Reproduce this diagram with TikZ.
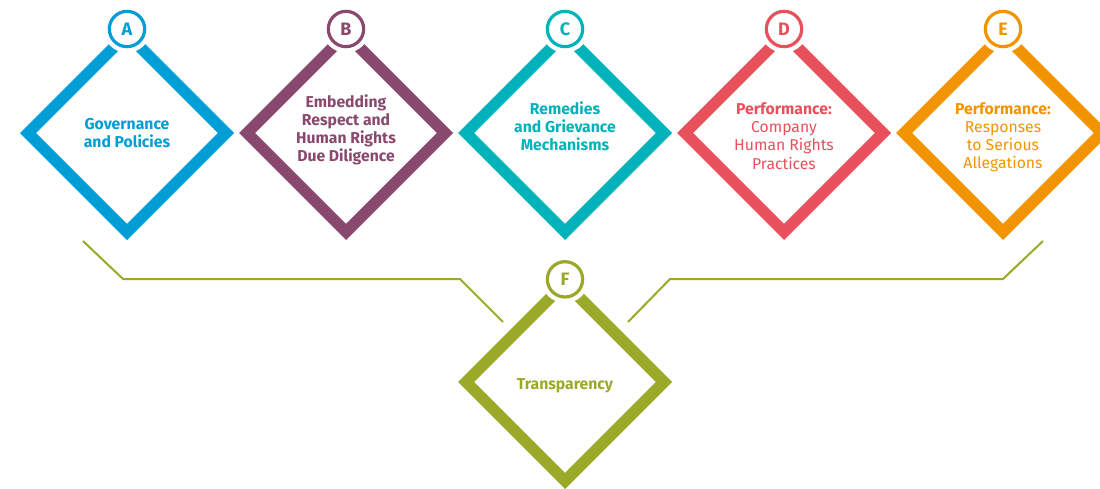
\documentclass[tikz,border=0pt]{standalone}
\usepackage{fontspec}
\setmainfont{Fira Sans}
\usetikzlibrary{shapes.geometric}
\definecolor{colA}{RGB}{0,157,214}
\definecolor{colB}{RGB}{137,72,110}
\definecolor{colC}{RGB}{0,178,185}
\definecolor{colD}{RGB}{232,80,92}
\definecolor{colE}{RGB}{242,148,0}
\definecolor{colF}{RGB}{154,170,40}
\begin{document}
\begin{tikzpicture}[x=0.75pt,y=-0.75pt,
  pillar/.style={diamond,aspect=1,draw=#1,line width=8.5pt,minimum size=152pt,inner sep=0pt},
  caption/.style={text=#1,align=center,inner sep=0pt,font=\fontsize{11.8}{13.6}\selectfont\bfseries},
  letter/.style={circle,draw=#1,text=#1,fill=white,line width=2.4pt,minimum size=26.5pt,inner sep=0pt,font=\fontsize{13.5}{14}\selectfont\bfseries,preaction={draw=white,line width=9pt}},
  link/.style={draw=colF,line width=1.5pt}]
  \useasboundingbox (0,0) rectangle (1100,489);
  \pgfmathsetmacro{\ytop}{133}
  \pgfmathsetmacro{\ybot}{382}
  % the five pillars in a row
  \foreach \name/\x/\dy/\txt in {A/127/0/{Governance\\and Policies},
      B/346/2.25/{Embedding\\Respect and\\Human Rights\\Due Diligence},
      C/565/5.25/{Remedies\\and Grievance\\Mechanisms},
      D/784/-2.25/{Performance:\\\mdseries Company\\\mdseries Human Rights\\\mdseries Practices},
      E/1003/-3/{Performance:\\\mdseries Responses\\\mdseries to Serious\\\mdseries Allegations}}
  {
    \node[pillar=col\name] (\name) at (\x,\ytop) {};
    \node[caption=col\name] (t\name) at ([yshift=\dy pt]\name.center) {\txt};
    \node[letter=col\name] (l\name) at ([yshift=78pt]\name.center) {\name};
  }
  % transparency below
  \node[pillar=colF] (F) at (565,\ybot) {};
  \node[caption=colF] (tF) at ([yshift=-3pt]F.center) {Transparency};
  \node[letter=colF] (lF) at ([yshift=77pt]F.center) {F};
  % links towards F
  \coordinate (linkL1) at (83,241);
  \coordinate (linkL2) at (123,279);
  \coordinate (linkL3) at (460,279);
  \coordinate (linkL4) at (503,322);
  \coordinate (linkR1) at (628,322);
  \coordinate (linkR2) at (670,279);
  \coordinate (linkR3) at (1003,279);
  \coordinate (linkR4) at (1043,241);
  \draw[link] (linkL1) -- (linkL2) -- (linkL3) -- (linkL4);
  \draw[link] (linkR1) -- (linkR2) -- (linkR3) -- (linkR4);
\end{tikzpicture}
\end{document}
